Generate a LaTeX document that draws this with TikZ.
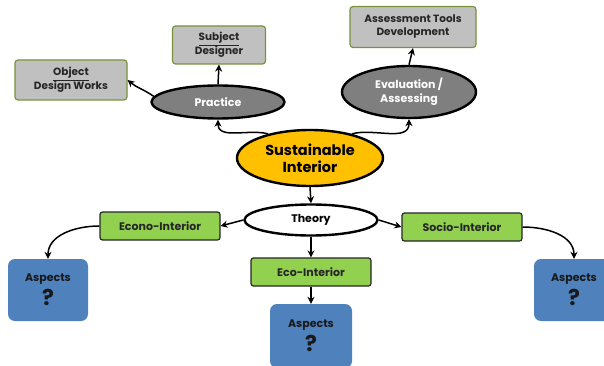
\documentclass[tikz,border=0pt]{standalone}
\usepackage{fontspec}
\setmainfont{Poppins}
\usetikzlibrary{shapes.geometric,arrows.meta}
\definecolor{boxgray}{HTML}{C0C0C0}
\definecolor{olive}{HTML}{77933C}
\definecolor{ellgray}{HTML}{7F7F7F}
\definecolor{gold}{HTML}{FFC000}
\definecolor{leaf}{HTML}{92D050}
\definecolor{steel}{HTML}{4F81BD}
\begin{document}
\begin{tikzpicture}[x=1pt,y=-1pt,
  graybox/.style={draw=olive,line width=1.2pt,fill=boxgray,rounded corners=3pt,
    inner sep=0pt,align=center,font=\fontsize{10.5}{13}\selectfont\bfseries,text=black!85},
  greenbox/.style={draw=black!85,line width=1.2pt,fill=leaf,rounded corners=2.5pt,
    minimum width=120pt,minimum height=28pt,inner sep=0pt,font=\fontsize{11}{13}\selectfont\bfseries,text=black!85},
  aspbox/.style={fill=steel,rounded corners=7pt,inner sep=0pt,align=center,
    font=\fontsize{11}{13}\selectfont\bfseries,text=black!90},
  ell/.style={ellipse,draw=black,line width=2.4pt,inner sep=0pt,align=center,font=\fontsize{11}{14}\selectfont\bfseries},
  conn/.style={draw=black,line width=1.5pt,-{Stealth[length=7pt,width=7pt]}}
]
\clip (0,0) rectangle (604,366);
\fill[white] (0,0) rectangle (604,366);
% top boxes
\node[graybox,minimum width=112pt,minimum height=40pt] (ob) at (71,80) {\underline{Object}\\Design Works};
\node[graybox,minimum width=93pt,minimum height=38pt] (sd) at (219,45) {\underline{Subject}\\Designer};
\node[graybox,minimum width=126pt,minimum height=41pt] (at) at (413,27) {Assessment Tools\\Development};
% ellipses
\node[ell,fill=ellgray,text=white,minimum width=133pt,minimum height=33pt] (pr) at (218,102) {Practice};
\node[ell,fill=ellgray,text=white,minimum width=134pt,minimum height=52pt] (ev) at (409,92) {Evaluation /\\Assessing};
\node[ell,fill=gold,text=black,minimum width=146pt,minimum height=56pt,font=\fontsize{14.5}{17}\selectfont\bfseries] (su) at (310,158) {Sustainable\\Interior};
\node[ell,fill=white,text=black,minimum width=133pt,minimum height=31pt] (th) at (311,220) {Theory};
% green boxes
\node[greenbox] (ec) at (160,226) {Econo-Interior};
\node[greenbox] (so) at (462,227) {Socio-Interior};
\node[greenbox] (eco) at (311,272) {Eco-Interior};
% aspects
\node[aspbox,minimum width=80pt,minimum height=62pt] (al) at (48,290) {Aspects\\[4pt]{\fontsize{22}{22}\selectfont ?}};
\node[aspbox,minimum width=82pt,minimum height=64pt] (ac) at (311,336) {Aspects\\[4pt]{\fontsize{22}{22}\selectfont ?}};
\node[aspbox,minimum width=80pt,minimum height=62pt] (ar) at (574,290) {Aspects\\[4pt]{\fontsize{22}{22}\selectfont ?}};
% connectors
\draw[conn] (pr.175) to[out=145,in=-40] (ob.east);
\draw[conn] (pr.north) -- (sd.south);
\draw[conn] (su.150) to[out=165,in=-90] (pr.south);
\draw[conn] (su.30) to[out=15,in=-90] (ev.south);
\draw[conn] (ev.north) -- (at.south);
\draw[conn] (su.south) -- (th.north);
\draw[conn] (th.west) -- (ec.east);
\draw[conn] (th.east) -- (so.west);
\draw[conn] (th.south) -- (eco.north);
\draw[conn] (eco.south) -- (ac.north);
\draw[conn] (ec.west) to[out=180,in=90] (al.north);
\draw[conn] (so.east) to[out=0,in=90] (ar.north);
\end{tikzpicture}
\end{document}
